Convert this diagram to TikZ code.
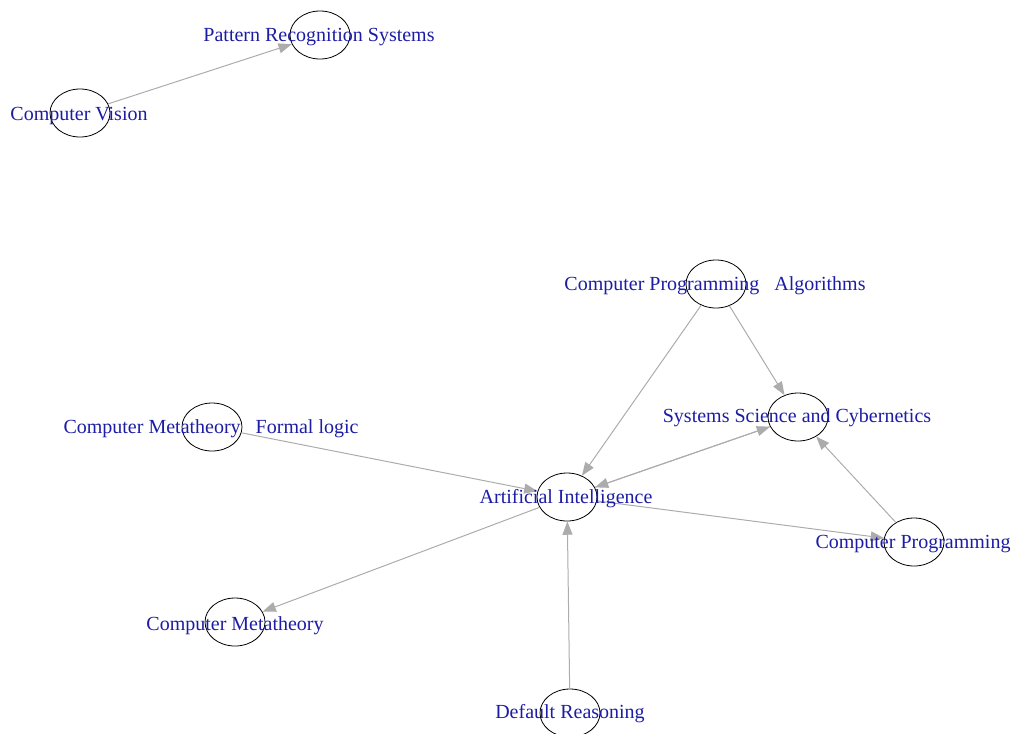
\documentclass[tikz,border=0pt]{standalone}
\usepackage{fontspec}
\setmainfont{Liberation Serif}
\usepackage{xcolor}
\usepackage{tikz}
\usetikzlibrary{arrows.meta,shapes.geometric}

\definecolor{lblblue}{RGB}{28,28,165}
\definecolor{edgegray}{RGB}{172,172,172}

\begin{document}
\begin{tikzpicture}[x=0.75pt,y=0.75pt,yscale=-1,xscale=1,
  vert/.style={draw=black,ellipse,line width=0.6pt,minimum width=45pt,minimum height=36pt,inner sep=0pt},
  lbl/.style={inner sep=0pt,text=lblblue,font=\fontsize{15}{18}\selectfont},
  edgeline/.style={draw=edgegray,line width=0.75pt,-{Triangle[length=10pt,width=7.5pt]}}]
\useasboundingbox (0,0) rectangle (1014,733);

% Shape: Ellipse
\node [vert] (prs) at (320,35) {};
\node [vert] (cv) at (80,113) {};
\node [vert] (cpa) at (716,284) {};
\node [vert] (ssc) at (798,417) {};
\node [vert] (ai) at (567,497) {};
\node [vert] (cp) at (914,542) {};
\node [vert] (cm) at (235,622) {};
\node [vert] (dr) at (570,713) {};
\node [vert] (cmfl) at (212,427) {};

%Straight Lines
\draw [edgeline] (cv) -- (prs);
\draw [edgeline] (cpa) -- (ssc);
\draw [edgeline] (cpa) -- (ai);
\draw [edgeline] (ai) -- (ssc);
\draw [edgeline] (ssc) -- (ai);
\draw [edgeline] (cp) -- (ssc);
\draw [edgeline] (ai) -- (cp);
\draw [edgeline] (cmfl) -- (ai);
\draw [edgeline] (ai) -- (cm);
\draw [edgeline] (dr) -- (ai);

% Text Node
\node [lbl] (prsl) at (319,37) {Pattern Recognition Systems};
% Text Node
\node [lbl] (cvl) at (79,116) {Computer Vision};
% Text Node
\node [lbl] (cpal) at (715,286) {Computer Programming\ \ \ Algorithms};
% Text Node
\node [lbl] (sscl) at (797,418) {Systems Science and Cybernetics};
% Text Node
\node [lbl] (ail) at (566,499) {Artificial Intelligence};
% Text Node
\node [lbl] (cpl) at (913,544) {Computer Programming};
% Text Node
\node [lbl] (cml) at (235,626) {Computer Metatheory};
% Text Node
\node [lbl] (drl) at (570,714) {Default Reasoning};
% Text Node
\node [lbl] (cmfll) at (211,429) {Computer Metatheory\ \ \ Formal logic};

\end{tikzpicture}
\end{document}
